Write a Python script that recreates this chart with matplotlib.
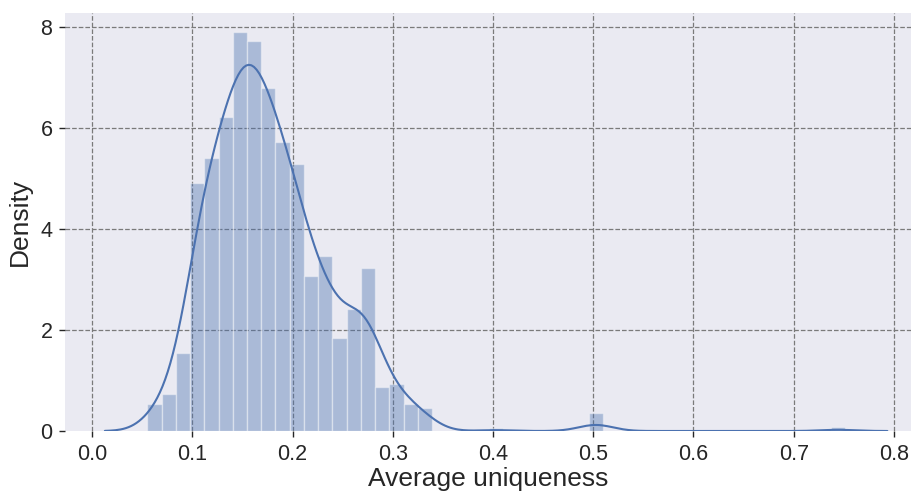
import numpy as np
import matplotlib
matplotlib.use("Agg")
import matplotlib.pyplot as plt
import seaborn as sns

# Histogram of average uniqueness (density normalised, 50 equal bins)
bin_start = 0.0552
bin_width = 0.0142
density = [
    0.53, 0.73, 1.55, 4.90, 5.41, 6.22, 7.89, 7.72, 6.79, 5.72,
    5.28, 3.06, 3.47, 1.85, 2.42, 3.23, 0.87, 0.94, 0.54, 0.45,
    0.00, 0.00, 0.00, 0.00, 0.05, 0.00, 0.00, 0.00, 0.00, 0.00,
    0.00, 0.36, 0.00, 0.00, 0.00, 0.00, 0.00, 0.00, 0.00, 0.00,
    0.00, 0.00, 0.00, 0.00, 0.00, 0.00, 0.00, 0.00, 0.07, 0.00,
]
kde_bandwidth = 0.0165

x_ticks = [0.0, 0.1, 0.2, 0.3, 0.4, 0.5, 0.6, 0.7, 0.8]
y_ticks = [0, 2, 4, 6, 8]

sns.set_theme(style="darkgrid")
plt.rcParams["font.family"] = ["Liberation Sans", "DejaVu Sans"]

blue = "#4C72B0"
text_col = "#262626"
grid_kw = dict(linestyle="--", color="#7a7a7a", linewidth=0.9, zorder=0.5)

fig = plt.figure(figsize=(9.12, 4.91), dpi=100)
ax = fig.add_axes([65 / 912, 1 - 431 / 491, (912 - 65) / 912, (431 - 12.7) / 491])

heights = np.asarray(density)
left_edges = bin_start + bin_width * np.arange(len(heights))
centers = left_edges + bin_width / 2
mask = heights > 0

ax.bar(left_edges[mask], heights[mask], width=bin_width, align="edge",
       color=blue, alpha=0.4, edgecolor="white", linewidth=1.0, zorder=2)

# Kernel density estimate built from the binned values,
# evaluated out to three bandwidths beyond the outermost bins
w = heights[mask]
c = centers[mask]
wstd = np.sqrt(np.average((c - np.average(c, weights=w)) ** 2, weights=w))
support = (c.min() - 3 * kde_bandwidth, c.max() + 3 * kde_bandwidth)
sns.kdeplot(x=c, weights=w, bw_method=kde_bandwidth / wstd, cut=3,
            clip=support, gridsize=300,
            color=blue, linewidth=1.5, ax=ax, zorder=3)

ax.set_xlim(-0.027, 0.818)
ax.set_ylim(0, 8.28)
ax.set_xticks(x_ticks)
ax.set_xticklabels([f"{t:.1f}" for t in x_ticks])
ax.set_yticks(y_ticks)

# dashed grid: vertical lines at every x tick, horizontal ones above the baseline
ax.grid(False)
for t in x_ticks:
    ax.axvline(t, **grid_kw)
for t in y_ticks[1:]:
    ax.axhline(t, **grid_kw)
for s in ax.spines.values():
    s.set_visible(False)

ax.tick_params(axis="both", which="major", labelsize=15.5, colors=text_col,
               length=4, width=1, pad=5)
ax.tick_params(axis="x", bottom=True)
ax.tick_params(axis="y", left=True)
ax.set_xlabel("Average uniqueness", fontsize=19, color=text_col, labelpad=2)
ax.set_ylabel("Density", fontsize=19, color=text_col, labelpad=6)

fig.savefig("out.png", dpi=100)
